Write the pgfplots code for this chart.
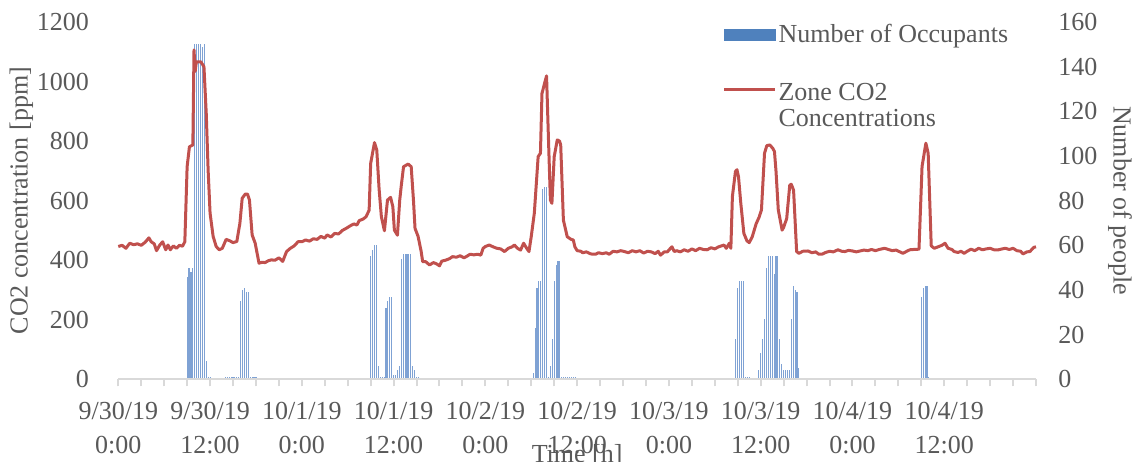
\documentclass[border=0pt]{standalone}
\usepackage{fontspec}
\setmainfont{Liberation Serif}
\usepackage{pgfplots}
\pgfplotsset{compat=1.18}
\definecolor{txt}{HTML}{595959}
\definecolor{axgray}{HTML}{D9D9D9}
\definecolor{barblue}{HTML}{4F81BD}
\definecolor{barthin}{HTML}{7FA2D4}
\definecolor{co2red}{HTML}{C0504D}
\begin{document}
\begin{tikzpicture}
\useasboundingbox (-59.15pt,-40.85pt) rectangle (511.35pt,189.65pt);
% ---------- right axis: number of occupants ----------
\begin{axis}[
  at={(0pt,0pt)}, anchor=south west,
  scale only axis, width=458.85pt, height=178.65pt,
  xmin=0, xmax=120, ymin=0, ymax=160,
  axis x line=none,
  axis y line*=right,
  y axis line style={draw=none},
  ytick={0,20,...,160},
  ytick style={draw=none},
  major tick length=0pt,
  yticklabel style={anchor=west, inner sep=0pt, text=txt, font=\fontsize{13}{15}\selectfont, xshift=11pt},
  /pgf/number format/assume math mode=true,
  ylabel={Number of people},
  every axis y label/.style={at={(axis description cs:1.0915,0.5)}, rotate=-90, anchor=center, text=txt, font=\fontsize{13}{15}\selectfont},
  clip=false,
]
\addplot[ycomb, draw=barthin, line width=0.55pt] coordinates {
(9.0,46) (9.25,50) (9.5,48) (9.75,50) (10.0,150) (10.25,150) (10.5,150) (10.75,150) (11.0,149) (11.25,150) (11.5,8) (11.75,1) (12.0,1)
(14.0,1) (14.25,1) (14.5,1) (14.75,1) (15.0,1) (15.25,1) (15.5,1) (15.75,1)
(16.0,35) (16.25,40) (16.5,41) (16.75,39) (17.0,39) (17.25,1) (17.5,1) (17.75,1) (18.0,1)
(33.0,55) (33.25,58) (33.5,60) (33.75,60) (34.0,6) (34.25,1) (34.5,1) (34.75,1)
(35.0,32) (35.25,35) (35.5,37) (35.75,37) (36.0,2) (36.25,2) (36.5,4) (36.75,6)
(37.0,54) (37.25,56) (37.5,56) (37.75,56) (38.0,56) (38.25,56) (38.5,6) (38.75,4) (39.0,1) (39.25,1)
(54.25,3) (54.5,23) (54.75,41) (55.0,44) (55.25,44) (55.5,85) (55.75,86) (56.0,86) (56.25,1) (56.5,6) (56.75,18)
(57.0,44) (57.25,51) (57.5,53) (57.75,53) (58.0,1) (58.25,1) (58.5,1) (58.75,1) (59.0,1) (59.25,1) (59.5,1) (59.75,1)
(80.75,18) (81.0,41) (81.25,44) (81.5,44) (81.75,44) (82.0,1) (82.25,1) (82.5,1)
(83.75,4) (84.0,12) (84.25,18) (84.5,27) (84.75,50) (85.0,55) (85.25,55) (85.5,55) (85.75,47) (86.0,55) (86.25,55)
(86.5,18) (86.75,7) (87.0,4) (87.25,4) (87.5,4) (87.75,4) (88.0,27) (88.25,42) (88.5,40) (88.75,39) (89.0,5)
(105.0,37) (105.25,41) (105.5,42) (105.75,42) (106.0,1)
};
\end{axis}
% ---------- left axis: CO2 ----------
\begin{axis}[
  at={(0pt,0pt)}, anchor=south west,
  scale only axis, width=458.85pt, height=178.65pt,
  xmin=0, xmax=120, ymin=0, ymax=1200,
  axis y line*=left,
  axis x line*=bottom,
  y axis line style={draw=none},
  x axis line style={draw=axgray, line width=1pt, -},
  ytick={0,200,...,1200},
  ytick style={draw=none},
  xtick={0,12,...,108},
  minor xtick={0,3,...,120},
  xtick style={draw=axgray, line width=1pt},
  tick align=outside,
  xtick pos=bottom,
  major tick length=3.5pt, minor tick length=3.5pt,
  xticklabels={{9/30/19\\0:00},{9/30/19\\12:00},{10/1/19\\0:00},{10/1/19\\12:00},{10/2/19\\0:00},{10/2/19\\12:00},{10/3/19\\0:00},{10/3/19\\12:00},{10/4/19\\0:00},{10/4/19\\12:00}},
  xticklabel style={align=center, anchor=north, inner sep=0pt, text=txt, font=\fontsize{13}{17}\selectfont, yshift=-8pt},
  yticklabel style={anchor=east, inner sep=0pt, text=txt, font=\fontsize{13}{15}\selectfont, xshift=-11pt},
  /pgf/number format/assume math mode=true,
  /pgf/number format/1000 sep={},
  ylabel={CO2 concentration [ppm]},
  every axis y label/.style={at={(axis description cs:-0.1055,0.5)}, rotate=90, anchor=center, text=txt, font=\fontsize{13}{15}\selectfont},
  xlabel={Time [h]},
  every axis x label/.style={at={(axis description cs:0.5,-0.213)}, anchor=center, text=txt, font=\fontsize{13}{15}\selectfont},
  legend style={at={(axis description cs:0.658,1.0)}, anchor=north west, draw=none, fill=none, inner sep=0pt,
    row sep=17pt,
    nodes={inner sep=1pt, text=txt, font=\fontsize{13}{13}\selectfont, align=left}},
  legend cell align=left,
  clip=false,
]
\addlegendimage{legend image code/.code={\fill[barblue] (0pt,-2.75pt) rectangle (25.5pt,2.75pt);}}
\addlegendentry{Number of Occupants}
\addplot[co2red, line width=1.5pt, line join=round,
  legend image code/.code={\draw[co2red, line width=1.5pt] (0pt,8.8pt) -- (25.5pt,8.8pt); \path[draw=none] (0pt,-8.8pt) -- (25.5pt,-8.8pt);}] coordinates {
(0,446) (0.5,450) (1.0,440) (1.5,457) (2.0,452) (2.5,455) (3.0,450) (3.5,460) (4.0,475) (4.3,462) (4.7,455)
(5.0,432) (5.4,450) (5.8,462) (6.2,435) (6.5,451) (6.8,435) (7.2,448) (7.6,440) (8.0,450) (8.4,447) (8.7,462)
(9.0,714) (9.3,781) (9.75,787) (9.9,1106) (10.05,1034) (10.2,1066) (10.8,1066) (11.2,1050) (11.5,893) (11.75,700)
(12.0,558) (12.4,480) (12.8,446) (13.2,435) (13.6,440) (14.1,470) (14.6,465) (15.0,459) (15.5,463) (15.9,524)
(16.2,608) (16.6,622) (16.9,622) (17.15,602) (17.5,485) (17.9,457) (18.4,390) (18.8,393) (19.2,392) (19.6,398)
(20.0,401) (20.5,400) (21.0,408) (21.5,396) (22.0,429) (22.5,440) (23.0,448) (23.5,462)
(24.0,462) (24.5,468) (25.0,464) (25.5,472) (26.0,470) (26.5,480) (27.0,474) (27.3,485) (27.8,478) (28.3,490)
(28.8,488) (29.3,500) (29.8,507) (30.3,515) (30.8,522) (31.2,518) (31.5,533) (32.0,538) (32.4,546) (32.8,568)
(33.0,725) (33.5,795) (33.8,770) (34.1,640) (34.4,546) (34.8,499) (35.2,602) (35.6,611) (35.9,580) (36.1,501)
(36.5,484) (36.8,602) (37.0,650) (37.3,714) (37.9,723) (38.3,714) (38.6,600) (38.8,507) (39.2,480) (39.6,430)
(39.8,395) (40.2,395) (40.7,384) (41.2,392) (41.6,388) (42.0,381) (42.3,397) (42.8,400) (43.3,405) (43.7,412)
(44.2,410) (44.7,415) (45.2,408) (45.5,412) (46.0,420) (46.5,418) (47.0,420) (47.4,417) (47.7,440) (48.0,446)
(48.5,451) (49.0,445) (49.5,440) (50.0,438) (50.5,429) (51.0,440) (51.5,445) (51.8,451) (52.2,440) (52.6,434)
(53.0,457) (53.4,440) (53.7,429) (54.0,480) (54.4,558) (54.9,748) (55.2,759) (55.4,960) (55.8,1000) (56.0,1019)
(56.2,848) (56.5,602) (56.7,591) (57.0,748) (57.4,804) (57.7,800) (57.85,787) (58.2,535) (58.7,479) (59.2,470)
(59.5,468) (59.7,445) (60.0,432) (60.5,430) (60.7,425) (61.2,428) (61.7,422) (62.0,420) (62.4,420) (62.8,425)
(63.3,422) (63.8,425) (64.2,420) (64.7,430) (65.2,428) (65.7,432) (66.2,429) (66.7,425) (67.2,432) (67.7,428)
(68.2,432) (68.7,424) (69.2,430) (69.7,428) (70.2,422) (70.6,430) (70.9,417) (71.4,428) (71.8,428) (72.2,440)
(72.4,445) (72.7,429) (73.0,432) (73.5,428) (74.0,435) (74.5,430) (75.0,438) (75.5,432) (76.0,440) (76.5,436)
(77.0,435) (77.5,442) (78.0,438) (78.5,445) (79.2,451) (79.5,440) (79.9,457) (80.1,440) (80.3,614) (80.7,698)
(80.9,704) (81.1,680) (81.4,591) (81.8,490) (82.2,465) (82.5,459) (82.9,479) (83.4,522) (83.8,545) (84.1,569)
(84.5,759) (84.8,785) (85.2,787) (85.6,775) (85.8,765) (86.0,700) (86.3,569) (86.8,501) (87.0,510) (87.4,540)
(87.8,652) (88.0,655) (88.3,635) (88.7,429) (89.0,423) (89.5,430) (90.2,431) (90.7,425) (91.2,428) (91.6,420)
(92.0,420) (92.5,426) (93.0,430) (93.5,428) (94.1,435) (94.6,430) (95.0,429) (95.5,433) (96.0,431) (96.5,428)
(97.0,431) (97.5,434) (98.0,432) (98.5,436) (99.0,432) (99.5,436) (100.2,440) (100.7,436) (101.2,432) (101.7,434)
(102.2,428) (102.6,423) (103.1,430) (103.5,435) (104.0,436) (104.7,437) (105.1,715) (105.6,793) (105.9,759) (106.3,448)
(106.7,440) (107.2,445) (107.7,450) (108.1,457) (108.5,440) (109.0,436) (109.3,429) (109.8,426) (110.2,430) (110.6,423)
(111.0,430) (111.5,437) (112.0,432) (112.5,440) (113.0,435) (113.5,438) (114.0,440) (114.5,435) (115.1,435) (115.6,438)
(116.0,440) (116.5,436) (117.0,440) (117.5,432) (118.0,430) (118.3,421) (118.8,428) (119.2,429) (119.7,443) (120.0,445)
};
\addlegendentry{Zone CO2\\Concentrations}
\end{axis}
\end{tikzpicture}
\end{document}
